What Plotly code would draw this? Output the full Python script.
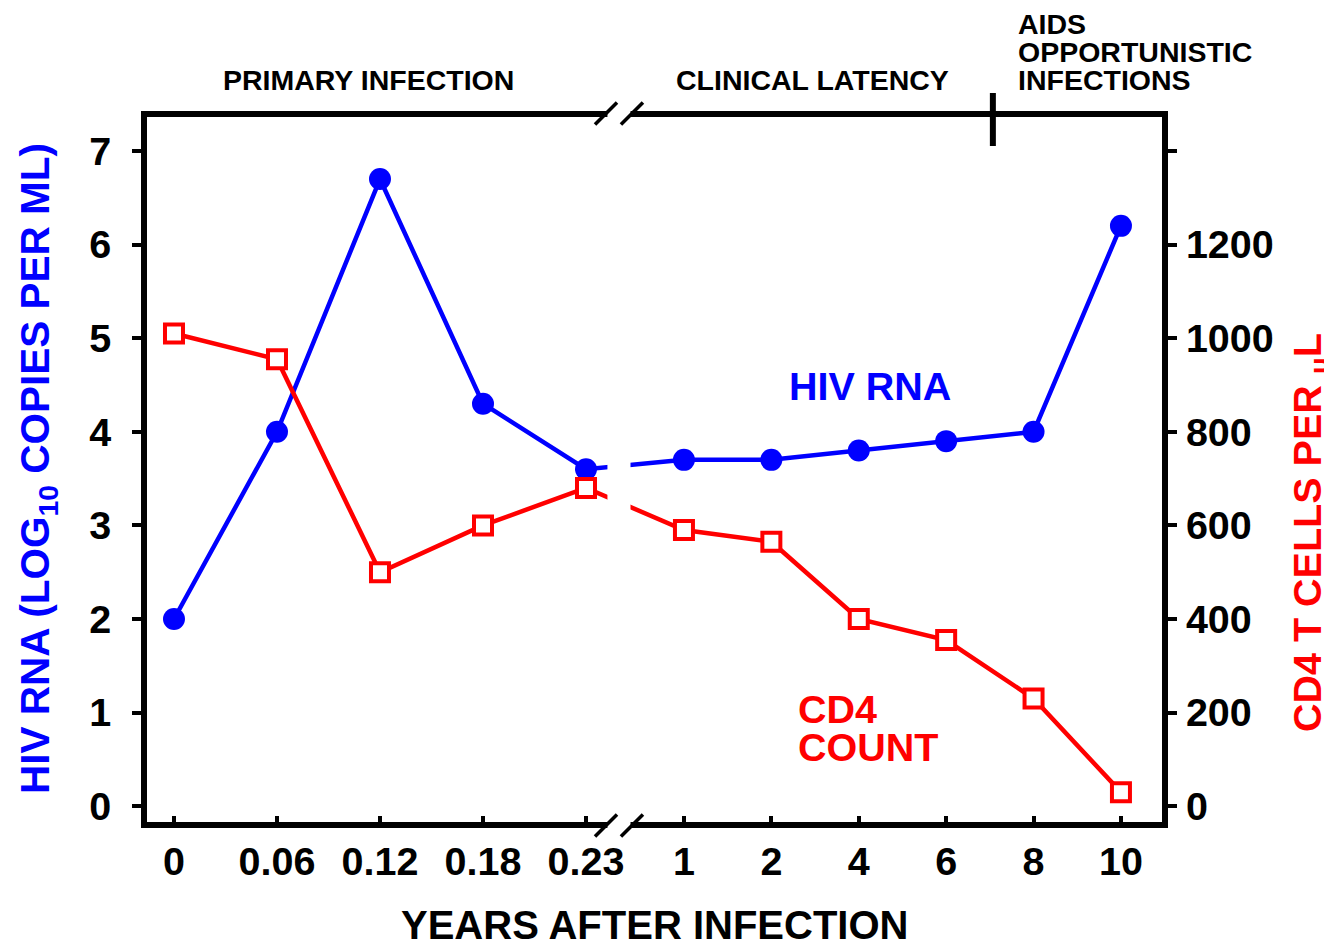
import plotly.graph_objects as go

# ---------------- data ----------------
primary_labels = ["0", "0.06", "0.12", "0.18", "0.23"]
latency_labels = ["1", "2", "4", "6", "8", "10"]
hiv_rna = [2.0, 4.0, 6.7, 4.3, 3.6, 3.7, 3.7, 3.8, 3.9, 4.0, 6.2]
cd4_count = [1010, 955, 500, 600, 680, 590, 565, 400, 355, 230, 30]
left_tickvals = [0, 1, 2, 3, 4, 5, 6, 7]
right_tickvals = [0, 200, 400, 600, 800, 1000, 1200]

# ---------------- layout constants ----------------
W, H = 1332, 950
PAGE_OFF = 8                      # browser body margin
ML, MT = 147 - PAGE_OFF, 117 - PAGE_OFF
PW, PH = 1015, 705
MR, MB = W - ML - PW, H - MT - PH

# broken x axis: primary phase uses unit steps, latency phase a narrower step
LAT_START = 4.951
LAT_STEP = 0.8485
BREAK_X = 4.32
BREAK_HALF = 0.112
AIDS_MARK_X = 7.95
X_RANGE = [-0.262, 9.592]
Y_RANGE = [-0.169, 7.363]
CD4_SCALE = 200
Y2_RANGE = [v * CD4_SCALE for v in Y_RANGE]

x_labels = primary_labels + latency_labels
x_pos = list(range(len(primary_labels))) + [LAT_START + j * LAT_STEP for j in range(len(latency_labels))]

FONT = "Liberation Sans, Arial, Helvetica, sans-serif"
BLUE = "#0000ff"
RED = "#ff0000"


def px(xp):
    return (xp - PAGE_OFF - ML) / PW


def py(yp):
    return (MT + PH - (yp - PAGE_OFF)) / PH


fig = go.Figure()
fig.add_trace(go.Scatter(
    x=x_pos, y=hiv_rna, mode="lines+markers", name="HIV RNA",
    line=dict(color=BLUE, width=4.5),
    marker=dict(color=BLUE, size=22, symbol="circle"),
    yaxis="y", showlegend=False, cliponaxis=False,
))
fig.add_trace(go.Scatter(
    x=x_pos, y=cd4_count, mode="lines+markers", name="CD4 COUNT",
    line=dict(color=RED, width=4.5),
    marker=dict(color="white", size=18, symbol="square", line=dict(color=RED, width=4)),
    yaxis="y2", showlegend=False, cliponaxis=False,
))

shapes = []
# axis break gap
shapes.append(dict(type="rect", xref="x", yref="paper",
                   x0=BREAK_X - BREAK_HALF, x1=BREAK_X + BREAK_HALF, y0=-0.02, y1=1.02,
                   fillcolor="white", line=dict(width=0), layer="above"))
# break slashes
for yanc, off in [(1, 3.5), (0, -3.5)]:
    for dx in (-0.126, 0.126):
        shapes.append(dict(type="line", xref="x", yref="paper",
                           xsizemode="pixel", xanchor=BREAK_X + dx, x0=-11, x1=11,
                           ysizemode="pixel", yanchor=yanc, y0=-11 + off, y1=11 + off,
                           line=dict(color="black", width=3.5), layer="above"))
# AIDS boundary mark
shapes.append(dict(type="line", xref="x", yref="paper",
                   xsizemode="pixel", xanchor=AIDS_MARK_X, x0=0, x1=0,
                   ysizemode="pixel", yanchor=1, y0=-29, y1=24,
                   line=dict(color="black", width=6), layer="above"))

annotations = []


def ann(text, x, y, size, color="black", xanchor="center", angle=0):
    annotations.append(dict(text=text, xref="paper", yref="paper", x=px(x), y=py(y),
                            xanchor=xanchor, yanchor="middle", showarrow=False,
                            textangle=angle,
                            font=dict(family=FONT, size=size, color=color, weight="bold")))


HDR = 28.5
ann("PRIMARY INFECTION", 368, 80, HDR)
ann("CLINICAL LATENCY", 812, 80, HDR)
ann("AIDS", 1016, 24, HDR, xanchor="left")
ann("OPPORTUNISTIC", 1016, 52, HDR, xanchor="left")
ann("INFECTIONS", 1016, 80, HDR, xanchor="left")
ann("HIV RNA", 870, 386, 39.5, color=BLUE)
ann("CD4", 796, 709, 39.5, color=RED, xanchor="left")
ann("COUNT", 796, 747, 39.5, color=RED, xanchor="left")
ann("YEARS AFTER INFECTION", 654, 925, 40)
ann("HIV RNA (LOG<sub>10</sub> COPIES PER ML)", 38, 469, 40.5, color=BLUE, angle=-90)
ann("CD4 T CELLS PER <sub>μ</sub>L", 1310, 533, 39.5, color=RED, angle=-90)

tickfont = dict(family=FONT, size=39.5, color="black", weight="bold")

fig.update_layout(
    width=W, height=H,
    margin=dict(l=ML, r=MR, t=MT, b=MB, pad=0),
    paper_bgcolor="white", plot_bgcolor="white",
    xaxis=dict(range=X_RANGE, tickvals=x_pos, ticktext=x_labels,
               showgrid=False, zeroline=False,
               showline=True, linecolor="black", linewidth=6, mirror=True,
               ticks="inside", ticklen=6, tickwidth=4, tickcolor="black",
               tickfont=tickfont, ticklabelstandoff=0),
    yaxis=dict(range=Y_RANGE, tickvals=left_tickvals,
               showgrid=False, zeroline=False,
               showline=True, linecolor="black", linewidth=6, mirror="ticks",
               ticks="outside", ticklen=9, tickwidth=4, tickcolor="black",
               tickfont=tickfont, ticklabelstandoff=13),
    yaxis2=dict(range=Y2_RANGE, tickvals=right_tickvals,
                overlaying="y", side="right",
                showgrid=False, zeroline=False,
                showline=True, linecolor="black", linewidth=6,
                ticks="", tickfont=tickfont, ticklabelstandoff=10),
    shapes=shapes, annotations=annotations,
    showlegend=False,
)

fig.write_html("out.html")
